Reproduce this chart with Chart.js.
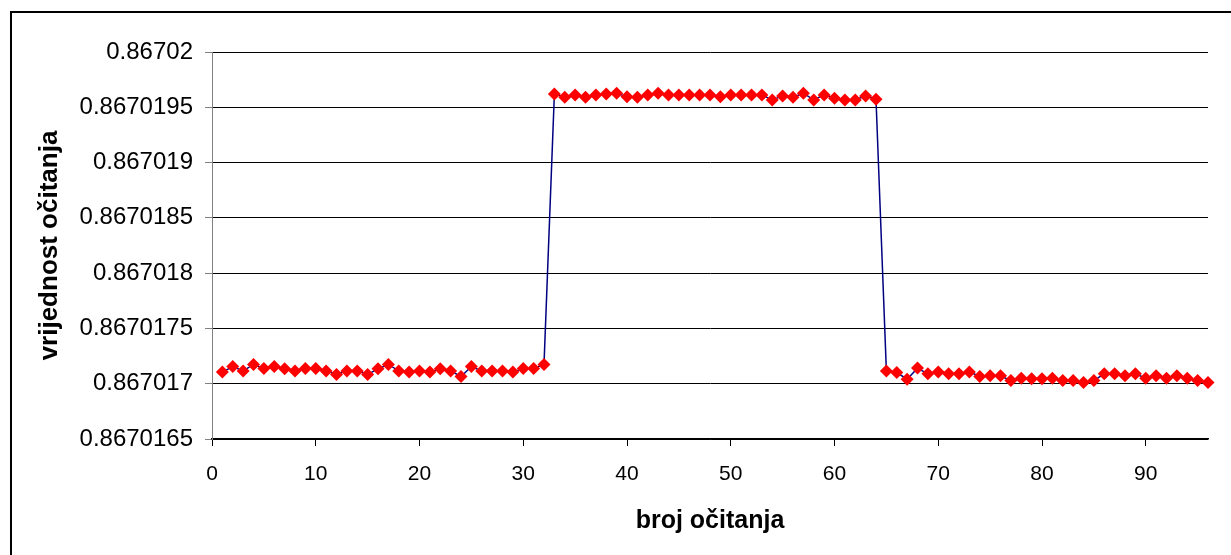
<!DOCTYPE html>
<html>
<head>
<meta charset="utf-8">
<script src="https://cdn.jsdelivr.net/npm/chart.js@4/dist/chart.umd.min.js"></script>
<style>
  body { margin: 0; background: #fff; }
  canvas { display: block; }
</style>
</head>
<body>
<canvas id="chart" width="1231" height="555"></canvas>
<script>
// readings 1..32, 33..64, 65..96
var firstBlock = [
  0.867017105, 0.867017155, 0.867017116, 0.867017174, 0.867017137, 0.867017155, 0.867017135, 0.867017116,
  0.867017137, 0.867017137, 0.867017116, 0.867017083, 0.867017116, 0.867017116, 0.867017083, 0.867017135,
  0.867017174, 0.867017116, 0.867017105, 0.867017116, 0.867017105, 0.867017135, 0.867017116, 0.867017065,
  0.867017155, 0.867017116, 0.867017116, 0.867017116, 0.867017105, 0.867017137, 0.867017137, 0.867017174
];
var secondBlock = [
  0.867019621, 0.867019591, 0.867019612, 0.867019591, 0.867019612, 0.867019621, 0.867019627, 0.867019596,
  0.867019591, 0.867019612, 0.867019627, 0.867019612, 0.867019612, 0.867019612, 0.867019612, 0.867019612,
  0.867019596, 0.867019612, 0.867019612, 0.867019612, 0.867019612, 0.867019566, 0.867019603, 0.867019591,
  0.867019627, 0.867019566, 0.867019612, 0.867019582, 0.867019566, 0.867019566, 0.867019603, 0.867019573
];
var thirdBlock = [
  0.867017116, 0.867017101, 0.867017041, 0.867017141, 0.867017089, 0.867017107, 0.867017089, 0.867017089,
  0.867017107, 0.867017065, 0.867017071, 0.867017071, 0.867017028, 0.867017050, 0.867017046, 0.867017046,
  0.867017050, 0.867017028, 0.867017028, 0.867017010, 0.867017028, 0.867017089, 0.867017089, 0.867017071,
  0.867017089, 0.867017050, 0.867017071, 0.867017050, 0.867017071, 0.867017050, 0.867017028, 0.867017010
];

var xTicks = [0, 10, 20, 30, 40, 50, 60, 70, 80, 90];
var yTicks = [0.8670165, 0.867017, 0.8670175, 0.867018, 0.8670185, 0.867019, 0.8670195, 0.86702];
var yTickLabels = ['0.8670165', '0.867017', '0.8670175', '0.867018', '0.8670185', '0.867019', '0.8670195', '0.86702'];

var values = firstBlock.concat(secondBlock, thirdBlock);
var points = values.map(function (v, i) { return { x: i + 1, y: v }; });

Chart.defaults.font.family = "'Liberation Sans', Arial, sans-serif";
Chart.defaults.color = '#000';

var frame = {
  id: 'frame',
  beforeDraw: function (chart) {
    var c = chart.ctx;
    c.save();
    c.fillStyle = '#fff';
    c.fillRect(0, 0, chart.width, chart.height);
    c.restore();
  },
  afterDraw: function (chart) {
    var c = chart.ctx;
    c.save();
    c.strokeStyle = '#000';
    c.lineWidth = 2;
    c.strokeRect(11, 12, 1260, 600);
    c.restore();
  }
};

var ctx = document.getElementById('chart').getContext('2d');
var myChart = new Chart(ctx, {
  type: 'line',
  data: {
    datasets: [{
      data: points,
      borderColor: '#000080',
      borderWidth: 1.5,
      tension: 0,
      pointStyle: 'rectRot',
      pointRadius: 6.5,
      pointBorderWidth: 0,
      pointBackgroundColor: '#ff0000',
      pointBorderColor: '#ff0000',
      clip: false
    }]
  },
  options: {
    responsive: false,
    animation: false,
    devicePixelRatio: 1,
    layout: { padding: { top: 52, right: 23, left: 0, bottom: 0 } },
    plugins: {
      legend: { display: false },
      tooltip: { enabled: false }
    },
    scales: {
      x: {
        type: 'linear',
        min: 0,
        max: 96,
        afterBuildTicks: function (scale) {
          scale.ticks = xTicks.map(function (v) { return { value: v }; });
        },
        afterFit: function (scale) { scale.height = 116; },
        ticks: {
          font: { size: 21 },
          padding: 16,
          maxRotation: 0,
          autoSkip: false
        },
        grid: {
          drawOnChartArea: false,
          drawTicks: true,
          tickLength: 7,
          tickColor: '#000'
        },
        border: { color: '#000', width: 1.5 },
        title: {
          display: true,
          text: 'broj očitanja',
          font: { size: 25, weight: 'bold' },
          padding: { top: 0, bottom: 19 }
        }
      },
      y: {
        min: 0.8670165,
        max: 0.86702,
        afterBuildTicks: function (scale) {
          scale.ticks = yTicks.map(function (v) { return { value: v }; });
        },
        afterFit: function (scale) { scale.width = 212; },
        ticks: {
          font: { size: 24 },
          padding: 12,
          autoSkip: false,
          callback: function (value, index) { return yTickLabels[index]; }
        },
        grid: {
          color: '#000',
          lineWidth: 1,
          tickLength: 7,
          tickColor: '#808080'
        },
        border: { color: '#808080', width: 1 },
        title: {
          display: true,
          text: 'vrijednost očitanja',
          font: { size: 26, weight: 'bold' },
          padding: { top: 34, bottom: 0 }
        }
      }
    }
  },
  plugins: [frame]
});
</script>
</body>
</html>
